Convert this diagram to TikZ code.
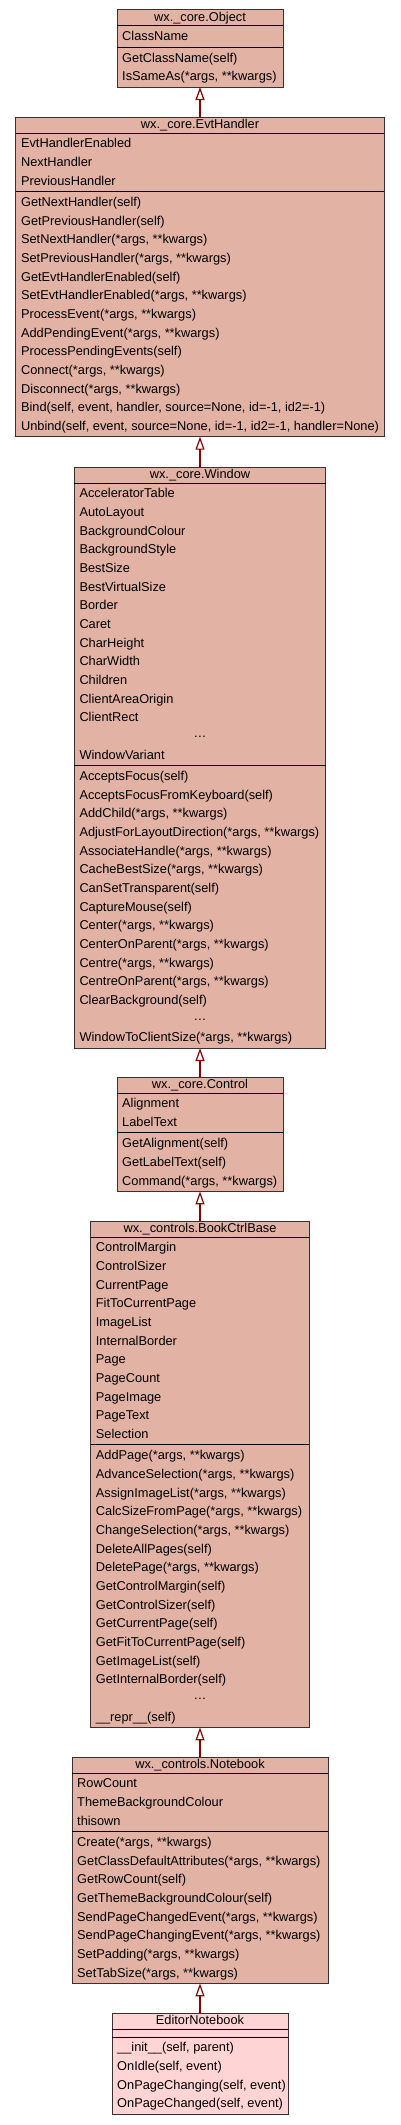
\documentclass[tikz,border=0pt]{standalone}
\usepackage{fontspec}
\setmainfont{Liberation Sans}
\usetikzlibrary{arrows.meta,calc}
\definecolor{classfill}{HTML}{E2B2A4}
\definecolor{ownfill}{HTML}{FFD4D4}
\definecolor{classborder}{HTML}{3A3030}
\definecolor{inheritred}{HTML}{8B0000}
\tikzset{
    classbox/.style={rectangle, draw=classborder, line width=1pt, inner sep=0pt, outer sep=0pt},
    classrule/.style={draw=black, line width=1pt},
    classtitle/.style={anchor=base, inner sep=0pt, font=\fontsize{12.8}{15}\selectfont},
    member/.style={anchor=base west, inner sep=0pt, font=\fontsize{12.8}{15}\selectfont},
    inherit/.style={draw=inheritred, line width=2pt,
        -{Triangle[length=13pt, width=9pt, fill=white, line width=1.2pt]}}
}
% name, top, width, fill, title, #attrs, attrs, #methods, methods
\newcommand{\umlclass}[9]{%
    \pgfmathsetmacro\attrh{ifthenelse(#6>0, #6*18.67+2.5, 8)}%
    \pgfmathsetmacro\methh{#8*18.67+2.5}%
    \pgfmathsetmacro\boxh{16+\attrh+\methh}%
    \node[classbox, fill=#4, minimum width=#3pt, minimum height=\boxh pt, anchor=north] (#1) at (200,-#2) {};
    \node[classtitle] at ($(#1.north)+(0,-11.5)$) {#5};
    \draw[classrule] ($(#1.north west)+(0,-16)$) -- ($(#1.north east)+(0,-16)$);
    \draw[classrule] ($(#1.north west)+(0,{-16-\attrh})$) -- ($(#1.north east)+(0,{-16-\attrh})$);
    \ifnum#6>0
        \foreach \txt [count=\i] in {#7}
            \node[member] at ($(#1.north west)+(5,{-21.5-(\i-0.5)*18.67})$) {\txt};
    \fi
    \foreach \txt [count=\i] in {#9}
        \node[member] at ($(#1.north west)+(5,{-21.5-\attrh-(\i-0.5)*18.67})$) {\txt};
}

\begin{document}
\begin{tikzpicture}[x=1pt, y=1pt]
    \useasboundingbox (0,0) rectangle (400,-2125);

    % base classes
    \umlclass{obj}{10}{166}{classfill}{wx.\_core.Object}
        {1}{ClassName}
        {2}{GetClassName(self), {IsSameAs(*args, **kwargs)}}
    \umlclass{evt}{117}{368.3}{classfill}{wx.\_core.EvtHandler}
        {3}{EvtHandlerEnabled, NextHandler, PreviousHandler}
        {13}{GetNextHandler(self), GetPreviousHandler(self), {SetNextHandler(*args, **kwargs)},
            {SetPreviousHandler(*args, **kwargs)}, GetEvtHandlerEnabled(self),
            {SetEvtHandlerEnabled(*args, **kwargs)}, {ProcessEvent(*args, **kwargs)},
            {AddPendingEvent(*args, **kwargs)}, ProcessPendingEvents(self),
            {Connect(*args, **kwargs)}, {Disconnect(*args, **kwargs)},
            {Bind(self, event, handler, source=None, id=-1, id2=-1)},
            {Unbind(self, event, source=None, id=-1, id2=-1, handler=None)}}
    \umlclass{win}{467}{251.4}{classfill}{wx.\_core.Window}
        {15}{AcceleratorTable, AutoLayout, BackgroundColour, BackgroundStyle, BestSize,
            BestVirtualSize, Border, Caret, CharHeight, CharWidth, Children,
            ClientAreaOrigin, ClientRect, {}, WindowVariant}
        {15}{AcceptsFocus(self), AcceptsFocusFromKeyboard(self), {AddChild(*args, **kwargs)},
            {AdjustForLayoutDirection(*args, **kwargs)}, {AssociateHandle(*args, **kwargs)},
            {CacheBestSize(*args, **kwargs)}, CanSetTransparent(self), CaptureMouse(self),
            {Center(*args, **kwargs)}, {CenterOnParent(*args, **kwargs)},
            {Centre(*args, **kwargs)}, {CentreOnParent(*args, **kwargs)},
            ClearBackground(self), {}, {WindowToClientSize(*args, **kwargs)}}
    \node[classtitle] (windots1) at ($(win.north)+(0,{-21.5-13.5*18.67+3})$) {…};
    \node[classtitle] (windots2) at ($(win.north)+(0,{-21.5-\attrh-13.5*18.67+3})$) {…};
    \umlclass{ctrl}{1077}{166}{classfill}{wx.\_core.Control}
        {2}{Alignment, LabelText}
        {3}{GetAlignment(self), GetLabelText(self), {Command(*args, **kwargs)}}
    \umlclass{book}{1221}{218.6}{classfill}{wx.\_controls.BookCtrlBase}
        {11}{ControlMargin, ControlSizer, CurrentPage, FitToCurrentPage, ImageList,
            InternalBorder, Page, PageCount, PageImage, PageText, Selection}
        {15}{{AddPage(*args, **kwargs)}, {AdvanceSelection(*args, **kwargs)},
            {AssignImageList(*args, **kwargs)}, {CalcSizeFromPage(*args, **kwargs)},
            {ChangeSelection(*args, **kwargs)}, DeleteAllPages(self),
            {DeletePage(*args, **kwargs)}, GetControlMargin(self), GetControlSizer(self),
            GetCurrentPage(self), GetFitToCurrentPage(self), GetImageList(self),
            GetInternalBorder(self), {}, \_\_repr\_\_(self)}
    \node[classtitle] (bookdots) at ($(book.north)+(0,{-21.5-\attrh-13.5*18.67+3})$) {…};
    \umlclass{nb}{1757}{256}{classfill}{wx.\_controls.Notebook}
        {3}{RowCount, ThemeBackgroundColour, thisown}
        {8}{{Create(*args, **kwargs)}, {GetClassDefaultAttributes(*args, **kwargs)},
            GetRowCount(self), GetThemeBackgroundColour(self),
            {SendPageChangedEvent(*args, **kwargs)}, {SendPageChangingEvent(*args, **kwargs)},
            {SetPadding(*args, **kwargs)}, {SetTabSize(*args, **kwargs)}}

    % own class
    \umlclass{editor}{2013}{176}{ownfill}{EditorNotebook}
        {0}{}
        {4}{{\_\_init\_\_(self, parent)}, {OnIdle(self, event)},
            {OnPageChanging(self, event)}, {OnPageChanged(self, event)}}

    % inheritance
    \draw[inherit] (evt.north) -- (obj.south);
    \draw[inherit] (win.north) -- (evt.south);
    \draw[inherit] (ctrl.north) -- (win.south);
    \draw[inherit] (book.north) -- (ctrl.south);
    \draw[inherit] (nb.north) -- (book.south);
    \draw[inherit] (editor.north) -- (nb.south);
\end{tikzpicture}
\end{document}
